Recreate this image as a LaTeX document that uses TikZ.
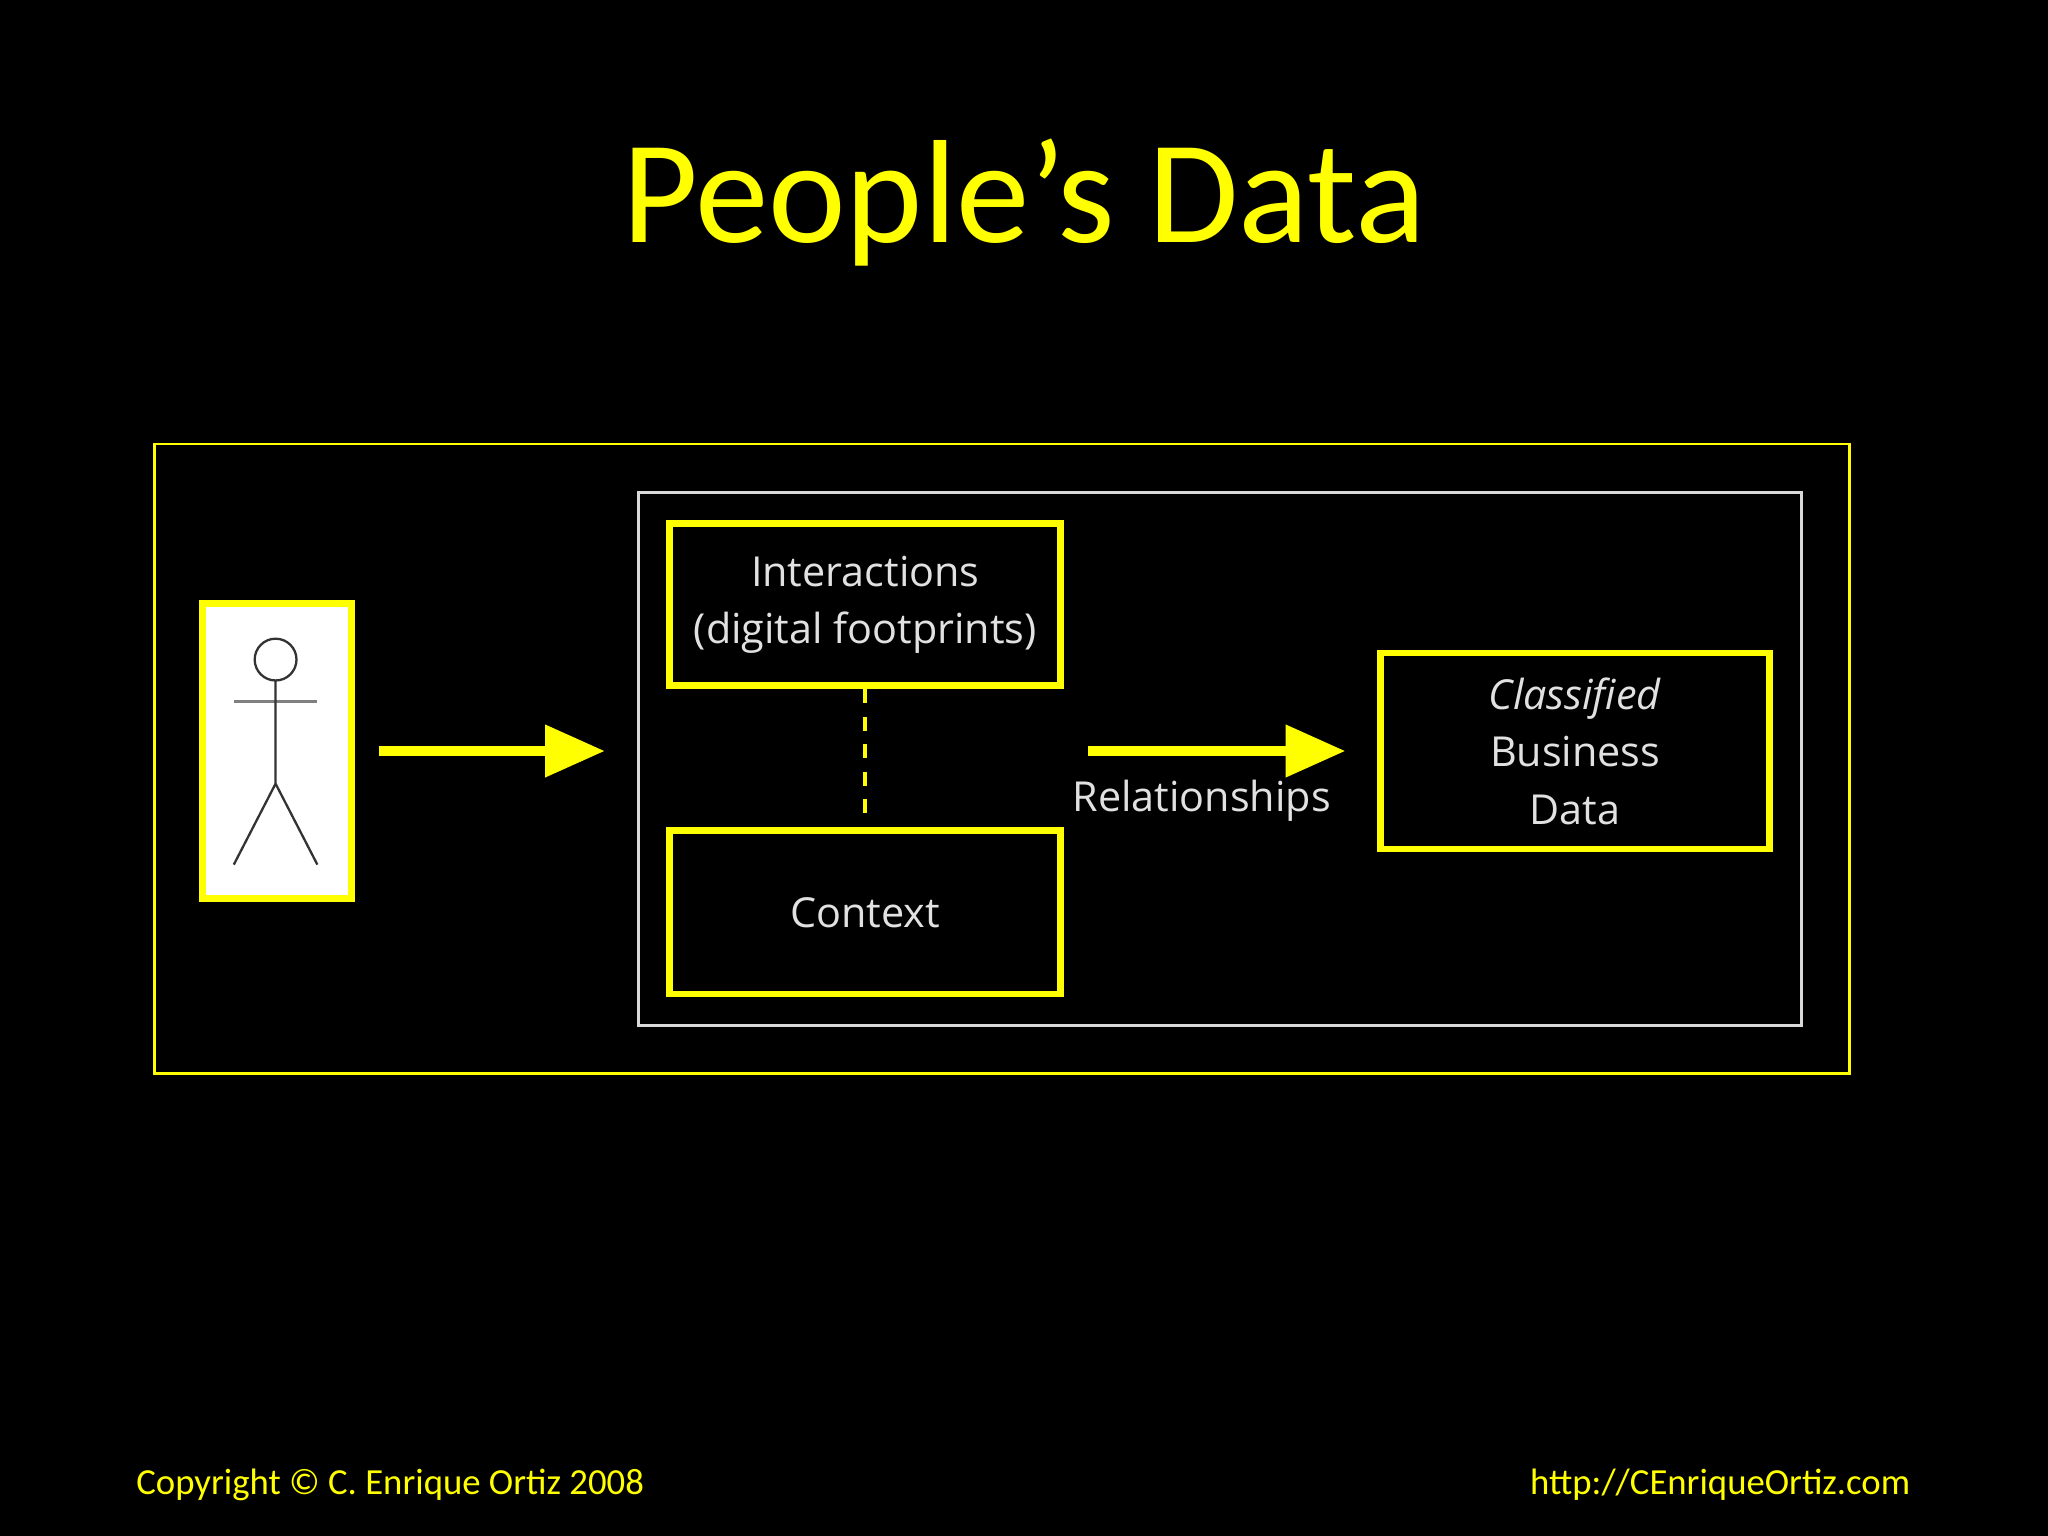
\documentclass[tikz,border=0pt]{standalone}
\usepackage{fontspec}
\setmainfont{Carlito}
\newfontfamily\boxfont{Open Sans}
\usetikzlibrary{arrows.meta}
\definecolor{yel}{RGB}{255,255,0}
\definecolor{txt}{RGB}{225,225,225}
\tikzset{
  ybox/.style={draw=yel,line width=1.5pt,fill=black,text=txt,font=\boxfont\fontsize{9}{12.5}\selectfont,align=center},
  yarrow/.style={draw=yel,line width=2pt,-{Triangle[length=13pt,width=11pt]}},
}
\begin{document}
\begin{tikzpicture}[x=0.01cm,y=-0.01cm]
\fill[black] (0,0) rectangle (1568,1176);
\useasboundingbox (0,0) rectangle (1568,1176);
\node[text=yel,font=\fontsize{32}{36}\selectfont] (title) at (784,155) {People’s Data};
\draw[yel,line width=0.6pt] (118,340) rectangle (1416,822);
\draw[white!85!black,line width=0.6pt] (489,377) rectangle (1379,785);
\node[draw=yel,fill=white,line width=1.5pt,minimum width=1.14cm,minimum height=2.26cm] (person) at (212,575) {};
\draw[black!80,line width=0.5pt] (211,505) circle (16);
\draw[gray,line width=0.8pt] (179,537) -- (243,537);
\draw[black!80,line width=0.5pt] (211,521) -- (211,600) (179,662) -- (211,600) -- (243,662);
\coordinate (a1s) at (290,575);
\coordinate (a1e) at (463,575);
\draw[yarrow] (a1s) -- (a1e);
\node[ybox,minimum width=2.99cm,minimum height=1.24cm] (inter) at (662.5,463) {Interactions\\(digital footprints)};
\node[ybox,minimum width=2.99cm,minimum height=1.25cm] (ctx) at (662.5,698.5) {Context};
\draw[yel,dashed,line width=0.8pt] (inter.south) -- (ctx.north);
\coordinate (a2s) at (833,575);
\coordinate (a2e) at (1030,575);
\draw[yarrow] (a2s) -- (a2e);
\node[text=txt,font=\boxfont\fontsize{9}{12}\selectfont] (rel) at (920,613) {Relationships};
\node[ybox,minimum width=2.98cm,minimum height=1.5cm] (cbd) at (1206,575) {\textit{Classified}\\Business\\Data};
\node[text=yel,anchor=west,font=\fontsize{8}{10}\selectfont] (copy) at (92,1137) {Copyright © C. Enrique Ortiz 2008};
\node[text=yel,anchor=east,font=\fontsize{8}{10}\selectfont] (url) at (1475,1137) {http://CEnriqueOrtiz.com};
\end{tikzpicture}
\end{document}
